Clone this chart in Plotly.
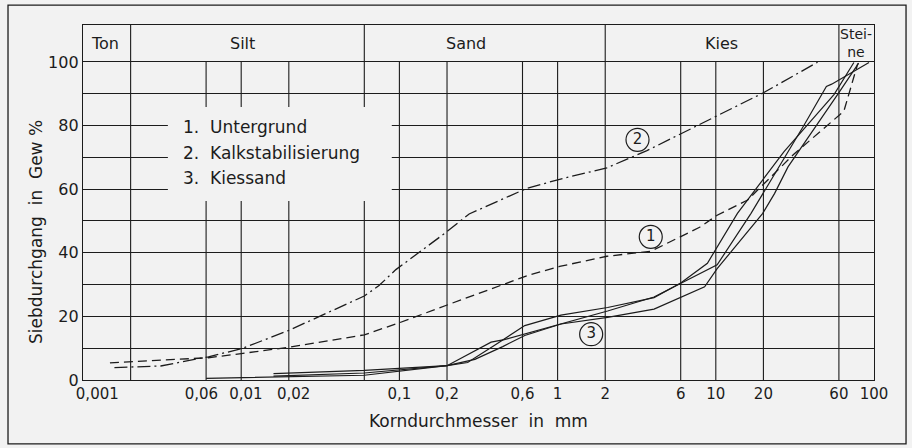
import math
import plotly.graph_objects as go

# ---------------- data ----------------
# Curve 1: Untergrund (dashed)
d1 = [0.00148, 0.0062, 0.01, 0.02, 0.06, 0.1, 0.206, 0.43, 0.66, 1.03, 2.05, 3.9, 7.9, 10.2, 15.9, 31, 64.5, 79]
p1 = [5.4, 7.0, 8.3, 10.3, 14.2, 18.0, 23.8, 29.6, 33.0, 35.7, 38.9, 40.5, 48.0, 51.8, 56.6, 70.9, 84.5, 99.5]

# Curve 2: Kalkstabilisierung (dash-dot)
d2 = [0.00158, 0.0031, 0.0062, 0.01, 0.02, 0.06, 0.074, 0.095, 0.197, 0.276, 0.635, 1.03, 2.05, 3.67, 20, 44]
p2 = [3.9, 4.4, 7.3, 9.8, 15.6, 26.4, 29.6, 34.7, 46.4, 52.2, 60.2, 63.1, 66.7, 72.1, 90.3, 99.9]

# Curve 3: Kiessand (three solid samples)
d3a = [0.016, 0.06, 0.2, 0.27, 0.40, 0.62, 1.05, 2.07, 4.07, 6.0, 8.85, 13.7, 27, 56, 74.6]
p3a = [2.0, 3.0, 4.5, 5.5, 10.9, 17.1, 20.4, 22.8, 25.9, 30.5, 36.7, 52.4, 71.8, 89.8, 99.8]
d3b = [0.016, 0.06, 0.2, 0.38, 0.46, 0.62, 1.05, 2.07, 4.07, 10.2, 16.7, 36.4, 50, 54, 93]
p3b = [1.2, 2.2, 4.5, 11.9, 12.7, 14.5, 17.6, 21.7, 26.1, 36.2, 52.4, 80.4, 92.3, 93.0, 99.8]
d3c = [0.006, 0.06, 0.2, 0.3, 0.45, 0.62, 1.05, 2.07, 4.07, 8.5, 10.2, 19.8, 23.5, 28.6, 59.4, 80]
p3c = [0.5, 1.5, 4.5, 6.5, 10.5, 14.0, 17.6, 19.7, 22.3, 29.3, 35.0, 52.4, 58.6, 67.0, 90.0, 99.6]

# circled curve numbers
mark_x = [3.88, 3.2, 1.63]
mark_y = [45.0, 75.5, 14.4]
mark_text = ["1", "2", "3"]

# axis ticks
NB = "\u00a0"
x_tickvals = [0.001, 0.006, 0.01, 0.02, 0.1, 0.2, 0.6, 1, 2, 6, 10, 20, 60, 100]
x_ticktext = [NB * 6 + "0,001", "0,06" + NB * 2, NB * 2 + "0,01", NB * 2 + "0,02", "0,1", "0,2", "0,6",
              "1", "2", "6", "10", "20", "60", "100"]
x_grid = [0.002, 0.006, 0.01, 0.02, 0.06, 0.1, 0.2, 0.6, 1, 2, 6, 10, 20, 60]
y_tickvals = [0, 10, 20, 30, 40, 50, 60, 70, 80, 90, 100]
y_ticktext = ["0", "", "20", "", "40", "", "60", "", "80", "", "100"]

# soil class header
zone_bounds = [0.001, 0.002, 0.06, 2, 60, 100]
zone_names = ["Ton", "Silt", "Sand", "Kies", "Stei-<br>ne"]
zone_label_x = [0.00137, 0.0102, 0.265, 10.8, 77]

legend_lines = ["1." + NB * 2 + "Untergrund", "2." + NB * 2 + "Kalkstabilisierung", "3." + NB * 2 + "Kiessand"]
legend_y = [79.4, 71.4, 63.5]

# ---------------- style ----------------
BG = "#f2f2f2"
INK = "#1c1c1c"
FONT = "DejaVu Sans"
Y_TOP = 111.6

fig = go.Figure()
fig.add_trace(go.Scatter(x=d1, y=p1, mode="lines", line=dict(color=INK, width=1.3, dash="9px,5px"),
                         name="Untergrund", showlegend=False))
fig.add_trace(go.Scatter(x=d2, y=p2, mode="lines", line=dict(color=INK, width=1.3, dash="13px,4px,2px,4px"),
                         name="Kalkstabilisierung", showlegend=False))
for dx, py in [(d3a, p3a), (d3b, p3b), (d3c, p3c)]:
    fig.add_trace(go.Scatter(x=dx, y=py, mode="lines", line=dict(color=INK, width=1.2),
                             name="Kiessand", showlegend=False))
fig.add_trace(go.Scatter(x=mark_x, y=mark_y, mode="markers+text", text=mark_text,
                         textposition="middle center",
                         textfont=dict(family=FONT, size=15, color=INK),
                         marker=dict(symbol="circle-open", size=23, color=INK, line=dict(width=1.2, color=INK)),
                         showlegend=False, hoverinfo="skip"))

shapes = []
# vertical grid lines (stop at 100 %)
for gx in x_grid:
    shapes.append(dict(type="line", xref="x", yref="y", x0=gx, x1=gx, y0=0, y1=100,
                       line=dict(color=INK, width=1.1), layer="below"))
# header dividers
for bx in zone_bounds[1:-1]:
    shapes.append(dict(type="line", xref="x", yref="y", x0=bx, x1=bx, y0=100, y1=Y_TOP,
                       line=dict(color=INK, width=1.1), layer="below"))
# legend background box covering the grid
shapes.append(dict(type="rect", xref="x", yref="y", x0=0.00344, x1=0.0895, y0=56.3, y1=85.8,
                   fillcolor=BG, line=dict(width=0), layer="above"))
# outer frame
shapes.append(dict(type="rect", xref="paper", yref="paper", x0=-0.0948, x1=1.0405, y0=-0.180, y1=1.056,
                   fillcolor="rgba(0,0,0,0)", line=dict(color=INK, width=1.3), layer="below"))

annotations = []
for name, lx in zip(zone_names, zone_label_x):
    small = "<br>" in name
    annotations.append(dict(x=math.log10(lx), y=(100 + Y_TOP) / 2 + (0.3 if small else 0), xref="x", yref="y",
                            text=name, showarrow=False,
                            font=dict(family=FONT, size=14 if small else 16, color=INK),
                            xanchor="center", yanchor="middle"))
for txt, ly in zip(legend_lines, legend_y):
    annotations.append(dict(x=math.log10(0.00416), y=ly, xref="x", yref="y", text=txt, showarrow=False,
                            font=dict(family=FONT, size=17, color=INK), xanchor="left", yanchor="middle"))
annotations.append(dict(x=0.5, y=-0.115, xref="paper", yref="paper",
                        text="Korndurchmesser" + NB * 2 + "in" + NB * 2 + "mm", showarrow=False,
                        font=dict(family=FONT, size=17, color=INK), xanchor="center", yanchor="middle"))
annotations.append(dict(x=-0.0594, y=0.417, xref="paper", yref="paper",
                        text="Siebdurchgang" + NB * 2 + "in" + NB * 2 + "Gew" + NB + "%", showarrow=False,
                        textangle=-90,
                        font=dict(family=FONT, size=17, color=INK), xanchor="center", yanchor="middle"))

fig.update_layout(
    width=912, height=448,
    margin=dict(l=83, r=38, t=25, b=68),
    paper_bgcolor=BG, plot_bgcolor=BG,
    shapes=shapes, annotations=annotations,
    font=dict(family=FONT, size=16, color=INK),
    xaxis=dict(type="log", range=[-3, 2], tickvals=x_tickvals, ticktext=x_ticktext, tickangle=0,
               automargin=False, showgrid=False, zeroline=False, showline=True, mirror=True,
               linecolor=INK, linewidth=1.3, ticks="", tickfont=dict(family=FONT, size=15, color=INK)),
    yaxis=dict(range=[0, Y_TOP], tickvals=y_tickvals, ticktext=y_ticktext, automargin=False,
               showgrid=True, gridcolor=INK, gridwidth=1.1, zeroline=False, showline=True, mirror=True,
               linecolor=INK, linewidth=1.3, ticks="", tickfont=dict(family=FONT, size=16, color=INK)),
)

fig.write_html("out.html",
               config={"displayModeBar": False},
               post_script="document.body.style.margin='0';document.body.style.overflow='hidden';"
                           "document.body.style.background='" + BG + "';")
